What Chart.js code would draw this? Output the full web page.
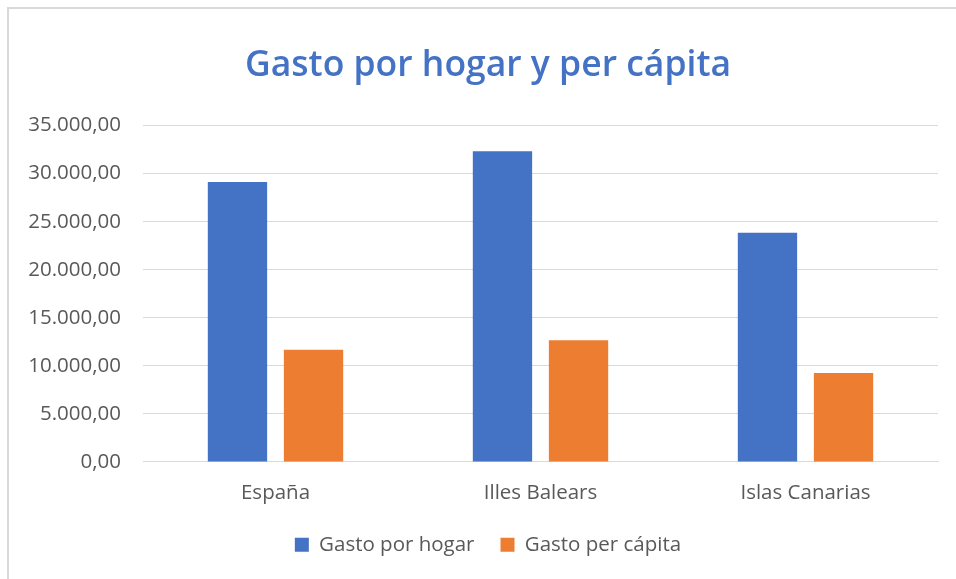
<!DOCTYPE html>
<html>
<head>
<meta charset="utf-8">
<script src="https://cdn.jsdelivr.net/npm/chart.js@4.4.1/dist/chart.umd.min.js"></script>
<style>
  html, body { margin: 0; padding: 0; background: #fff; }
  #wrap { position: relative; width: 956px; height: 579px; }
  #frame { position: absolute; left: 7px; top: 7px; right: -2px; bottom: -2px; border: 2px solid #d9d9d9; }
  canvas { position: absolute; left: 0; top: 0; }
</style>
</head>
<body>
<div id="wrap">
  <div id="frame"></div>
  <canvas id="chart" width="956" height="579"></canvas>
</div>
<script>
// --- Data ---
const regions = ["España", "Illes Balears", "Islas Canarias"];
const gastoHogar = [29130, 32330, 23850];
const gastoPerCapita = [11670, 12650, 9240];
const seriesNames = ["Gasto por hogar", "Gasto per cápita"];

const FONT = "'Open Sans', 'Noto Sans', sans-serif";

// formato español: 35.000,00
const fmtEs = (v) => {
  const parts = v.toFixed(2).split(".");
  const ints = parts[0].replace(/\B(?=(\d{3})+(?!\d))/g, ".");
  return ints + "," + parts[1];
};

// the y labels sit left of the padded area; widen their clip box so they show
const widenYLabels = {
  id: 'widenYLabels',
  afterLayout(chart) { chart.scales.y.left = 0; }
};

const ctx = document.getElementById("chart").getContext("2d");

new Chart(ctx, {
  type: 'bar',
  data: {
    labels: regions,
    datasets: [
      { label: seriesNames[0], data: gastoHogar, backgroundColor: '#4472C4', categoryPercentage: 0.574, barPercentage: 0.78 },
      { label: seriesNames[1], data: gastoPerCapita, backgroundColor: '#ED7D31', categoryPercentage: 0.574, barPercentage: 0.78 }
    ]
  },
  plugins: [widenYLabels],
  options: {
    responsive: false,
    animation: false,
    layout: { padding: { left: 38, right: 18, top: 0, bottom: 14 } },
    scales: {
      x: {
        afterFit: (scale) => { scale.height -= 16; },
        grid: { display: false, drawTicks: false },
        border: { color: '#d9d9d9', width: 1 },
        ticks: { color: '#595959', font: { family: FONT, size: 20.5 }, padding: 19 }
      },
      y: {
        min: 0,
        max: 35000,
        afterFit: (scale) => { scale.width = 105; },
        grid: { color: '#d9d9d9', lineWidth: 1, drawTicks: false },
        border: { display: false },
        ticks: {
          stepSize: 5000,
          color: '#595959',
          font: { family: FONT, size: 20.5 },
          padding: 22,
          callback: (v) => fmtEs(v)
        }
      }
    },
    plugins: {
      title: {
        display: true,
        text: 'Gasto por hogar y per cápita',
        color: '#4472C4',
        font: { family: FONT, size: 35.5, weight: '600' },
        padding: { top: 45, bottom: 38 }
      },
      legend: {
        position: 'bottom',
        labels: {
          color: '#595959',
          font: { family: FONT, size: 20.5 },
          boxWidth: 14,
          boxHeight: 14,
          padding: 26
        }
      },
      tooltip: { enabled: false }
    }
  }
});
</script>
</body>
</html>
